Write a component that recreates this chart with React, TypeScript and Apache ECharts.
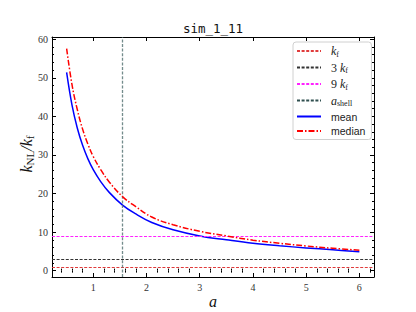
import React, { useEffect, useRef } from "react";
import * as echarts from "echarts";

// ---- data ----
const aValues = [0.5, 0.6, 0.7, 0.8, 0.9, 1.0, 1.14, 1.3, 1.55, 1.8, 2.1, 2.5, 3.0, 3.5, 4.0, 4.5, 5.0, 5.5, 6.0];
const meanValues = [51.4, 43.0, 37.0, 32.5, 29.0, 26.2, 23.1, 20.3, 17.0, 14.7, 12.5, 10.6, 9.0, 8.0, 7.1, 6.45, 5.9, 5.4, 4.9];
const medianValues = [57.6, 48.3, 41.8, 36.7, 32.8, 29.6, 26.2, 23.0, 19.2, 16.6, 13.9, 11.9, 10.2, 9.0, 7.9, 7.1, 6.4, 5.8, 5.3];
const kfLevel = 1;
const kf3Level = 3;
const kf9Level = 9;
const aShell = 1.55;

// ---- axes ----
const xMin = 0.225;
const xMax = 6.275;
const yMin = -1.65;
const yMax = 60.6;
const xTicks = [1, 2, 3, 4, 5, 6];
const xMinorTicks = [0.4, 0.6, 0.8, 1.2, 1.4, 1.6, 1.8, 2.2, 2.4, 2.6, 2.8, 3.2, 3.4, 3.6, 3.8, 4.2, 4.4, 4.6, 4.8, 5.2, 5.4, 5.6, 5.8, 6.2];
const yTicks = [0, 10, 20, 30, 40, 50, 60];
const yMinorTicks = [2, 4, 6, 8, 12, 14, 16, 18, 22, 24, 26, 28, 32, 34, 36, 38, 42, 44, 46, 48, 52, 54, 56, 58];

const SERIF = "Liberation Serif";

export default function App() {
  const ref = useRef<HTMLDivElement>(null);
  useEffect(() => {
    if (!ref.current) return;
    const chart = echarts.init(ref.current, null, { renderer: "svg" });
    const grid = { left: 52, right: 42, top: 37, bottom: 35, outerBoundsMode: "none", containLabel: false };
    const majorX = (pos: string, labels: boolean) => ({
      type: "value", gridIndex: 0, position: pos, min: xMin, max: xMax,
      axisLine: { show: true, onZero: false, lineStyle: { color: "#000", width: 1 } },
      axisTick: { show: true, inside: true, length: 4, customValues: xTicks, lineStyle: { color: "#000" } },
      axisLabel: labels
        ? { show: true, customValues: xTicks, margin: 5, fontFamily: SERIF, fontSize: 10, color: "#333", formatter: (v: number) => String(v) }
        : { show: false },
      splitLine: { show: false },
    });
    const majorY = (pos: string, labels: boolean) => ({
      type: "value", gridIndex: 0, position: pos, min: yMin, max: yMax,
      axisLine: { show: true, onZero: false, lineStyle: { color: "#000", width: 1 } },
      axisTick: { show: true, inside: true, length: 4, customValues: yTicks, lineStyle: { color: "#000" } },
      axisLabel: labels
        ? { show: true, customValues: yTicks, margin: 4, fontFamily: SERIF, fontSize: 10, color: "#333", formatter: (v: number) => String(v) }
        : { show: false },
      splitLine: { show: false },
    });
    const minorX = (pos: string) => ({
      type: "value", gridIndex: 1, position: pos, min: xMin, max: xMax,
      axisLine: { show: false },
      axisTick: { show: true, inside: true, length: 2, customValues: xMinorTicks, lineStyle: { color: "#000" } },
      axisLabel: { show: false }, splitLine: { show: false },
    });
    const minorY = (pos: string) => ({
      type: "value", gridIndex: 1, position: pos, min: yMin, max: yMax,
      axisLine: { show: false },
      axisTick: { show: true, inside: true, length: 2, customValues: yMinorTicks, lineStyle: { color: "#000" } },
      axisLabel: { show: false }, splitLine: { show: false },
    });

    const hline = (name: string, level: number, color: string) => ({
      name, type: "line", xAxisIndex: 0, yAxisIndex: 0, data: [], symbol: "none", color,
      lineStyle: { color, width: 1, type: [3, 1.6] },
      z: 2,
      markLine: {
        silent: true, symbol: ["none", "none"], label: { show: false }, animation: false,
        lineStyle: { color, width: 1, type: [3, 1.6] },
        data: [{ yAxis: level }],
      },
    });

    const sub = { fontFamily: SERIF, fontSize: 8, verticalAlign: "bottom", lineHeight: 9, color: "#222" };
    const ital = { fontFamily: SERIF, fontStyle: "italic", fontSize: 12, lineHeight: 14, color: "#222" };
    const num = { fontFamily: SERIF, fontSize: 12, lineHeight: 14, color: "#222" };
    const txt = { fontFamily: "Liberation Sans", fontSize: 10.5, lineHeight: 14, color: "#222" };

    const legendNames: Record<string, string> = {
      kf: "{i|k}{s|f}",
      kf3: "{n|3 }{i|k}{s|f}",
      kf9: "{n|9 }{i|k}{s|f}",
      ashell: "{i|a}{s|shell}",
      mean: "{t|mean}",
      median: "{t|median}",
    };

    chart.setOption({
      animation: false,
      backgroundColor: "#fff",
      grid: [grid, { ...grid }],
      xAxis: [majorX("bottom", true), majorX("top", false), minorX("bottom"), minorX("top")],
      yAxis: [majorY("left", true), majorY("right", false), minorY("left"), minorY("right")],
      legend: {
        orient: "vertical", left: 293, top: 42, width: 72,
        padding: [3, 6, 3, 3], itemGap: 3.5, itemWidth: 24, itemHeight: 10,
        backgroundColor: "#fff", borderColor: "#d0d0d0", borderWidth: 1, borderRadius: 3,
        itemStyle: { opacity: 0, borderWidth: 0 },
        data: ["kf", "kf3", "kf9", "ashell", "mean", "median"],
        formatter: (n: string) => legendNames[n] || n,
        textStyle: { padding: [0, 0, 0, 5], rich: { i: ital, s: sub, n: num, t: txt } },
      },
      graphic: [
        {
          type: "text", x: 213, y: 28,
          style: { text: "sim_1_11", fontFamily: "DejaVu Sans Mono", fontSize: 12.5, fill: "#111", align: "center", verticalAlign: "middle" },
        },
        {
          type: "text", x: 213, y: 301,
          style: { text: "a", fontFamily: SERIF, fontStyle: "italic", fontSize: 16, fill: "#111", align: "center", verticalAlign: "middle" },
        },
        {
          type: "text", x: 26, y: 154, rotation: Math.PI / 2,
          style: {
            text: "{i|k}{s|NL}{i|/k}{s|f}", align: "center", verticalAlign: "middle",
            rich: {
              i: { fontFamily: SERIF, fontStyle: "italic", fontSize: 16, lineHeight: 18, fill: "#111" },
              s: { fontFamily: SERIF, fontSize: 11, lineHeight: 11, verticalAlign: "bottom", fill: "#111" },
            },
          },
        },
      ],
      series: [
        hline("kf", kfLevel, "#e03c3c"),
        hline("kf3", kf3Level, "#333333"),
        hline("kf9", kf9Level, "#ff22ff"),
        {
          name: "ashell", type: "line", data: [], symbol: "none", color: "#2f4f4f",
          lineStyle: { color: "#2f4f4f", width: 1, type: [3, 1.6] }, z: 2,
          markLine: {
            silent: true, symbol: ["none", "none"], label: { show: false },
            lineStyle: { color: "#5a7878", width: 1.3, type: [3, 1.6], opacity: 0.85 },
            data: [{ xAxis: aShell }],
          },
        },
        {
          name: "mean", type: "line", symbol: "none", smooth: 0.4, color: "#0000ff", z: 4,
          lineStyle: { color: "#0000ff", width: 1.5 },
          data: aValues.map((a, i) => [a, meanValues[i]]),
        },
        {
          name: "median", type: "line", symbol: "none", smooth: 0.4, color: "#ff0000", z: 5,
          lineStyle: { color: "#ff0000", width: 1.5, type: [6, 2, 1.5, 2] },
          data: aValues.map((a, i) => [a, medianValues[i]]),
        },
      ],
    });
    return () => chart.dispose();
  }, []);
  return <div ref={ref} style={{ position: "fixed", left: 0, top: 0, width: 416, height: 312 }} />;
}
